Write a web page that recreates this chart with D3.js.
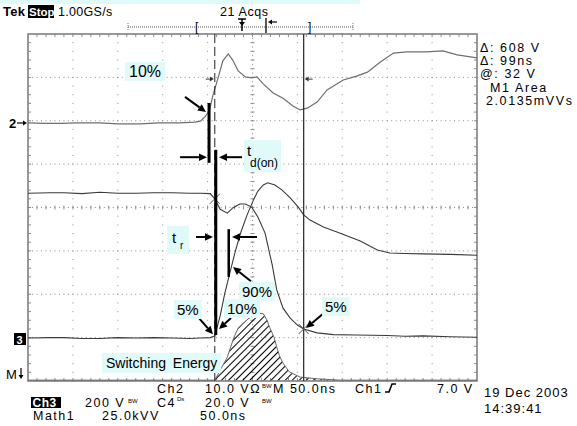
<!DOCTYPE html>
<html><head><meta charset="utf-8">
<script src="https://cdn.jsdelivr.net/npm/d3@7"></script>
<style>
body{margin:0;background:#fff;}
svg{display:block;}
text{font-family:"Liberation Sans",Arial,sans-serif;fill:#000;}
</style></head><body>
<svg id="c" width="577" height="426"></svg>
<script>
// ---------- DATA (time in ns, values in graticule divisions) ----------
const gateT   = [0,20,36,55,80,100,125,145,169,186,192,197,202,206,212,217,223,228,234,242,249,255,262,273,284,295,303,311,322,333,351,366,378,392,407,422,444,462,478,500];
const gateDiv = [1.95,1.94,1.94,1.95,1.95,1.93,1.93,1.95,1.95,1.97,1.99,2.09,2.23,2.59,3.01,3.38,3.54,3.40,3.15,3.01,2.99,3.01,2.85,2.64,2.52,2.34,2.25,2.29,2.43,2.71,2.94,3.03,3.12,3.35,3.56,3.59,3.59,3.61,3.52,3.45];

const vceT   = [0,25,40,60,80,100,120,140,160,180,192,203,208,214,222,228,236,242,249,256,264,267,272,277,284,292,300,307,322,340,366,400,420,440,470,500];
const vceDiv = [0.33,0.34,0.34,0.32,0.35,0.33,0.33,0.34,0.34,0.33,0.33,0.32,0.20,-0.04,-0.13,-0.01,0.08,0.08,0.01,-0.22,-0.59,-0.87,-1.33,-1.90,-2.32,-2.55,-2.71,-2.80,-2.89,-2.93,-2.94,-2.95,-2.97,-2.96,-2.98,-2.99];

const icT   = [0,25,40,60,80,100,120,140,160,180,192,203,208,214,219,225,231,237,244,251,256,262,267,275,283,292,301,307,314,329,347,370,389,403,420,440,470,500];
const icDiv = [-3.01,-3.00,-3.00,-3.02,-3.02,-3.00,-3.01,-3.00,-3.01,-3.02,-3.01,-3.00,-2.96,-2.50,-1.99,-1.49,-1.00,-0.57,-0.17,0.17,0.38,0.52,0.57,0.52,0.40,0.22,0.01,-0.17,-0.29,-0.45,-0.59,-0.77,-0.98,-1.05,-1.06,-1.07,-1.08,-1.10];

const mathT   = [0,100,208,214,222,229,234,240,245,249,256,262,266,269,274,277,280,284,291,303,322,347,400,500];
const mathDiv = [-3.98,-3.98,-3.98,-3.75,-3.45,-3.01,-2.78,-2.66,-2.57,-2.52,-2.43,-2.45,-2.59,-2.76,-2.99,-3.22,-3.42,-3.59,-3.79,-3.91,-3.95,-3.98,-3.98,-3.98];
const mathBase = -3.98;

const cursorT = [208, 307];           // cursor 1 (dashed), cursor 2 (solid)
const readouts = ["\u0394: 608 V","\u0394: 99ns","@: 32 V","M1 Area","2.0135mVVs"];

// annotation bars
const barT   = [201.6, 209.1, 223.8];
const barTop = [2.41, 1.33, -0.50];
const barBot = [1.03, -2.94, -1.60];
// annotation arrows (tip at arrowTo)
const arrowFrom = [[174.8,2.55],[169.3,1.16],[238.3,1.16],[187.1,-0.68],[255.0,-0.68],[248.3,-1.70],[190.4,-2.55],[226.1,-2.55],[329.6,-2.43]];
const arrowTo   = [[198.2,2.20],[199.3,1.16],[212.7,1.16],[206.0,-0.68],[227.2,-0.68],[228.3,-1.37],[206.0,-2.92],[212.7,-2.80],[309.6,-2.78]];
// percent labels
const labelText = ["10%","90%","5%","10%","5%"];
const labelT    = [112.5,238.3,165.9,221.6,330.7];
const labelDiv  = [3.01,-2.06,-2.48,-2.455,-2.41];

// ---------- SCALES ----------
const x = d3.scaleLinear().domain([0,500]).range([28,477]);
const y = d3.scaleLinear().domain([-4,4]).range([381,34]);
const svg = d3.select('#c');
const defs = svg.append('defs');
const CY = '#e0fafa';

const pat = defs.append('pattern').attr('id','hatch').attr('patternUnits','userSpaceOnUse')
  .attr('width',5).attr('height',5).attr('patternTransform','rotate(45)');
pat.append('line').attr('x1',0.5).attr('y1',0).attr('x2',0.5).attr('y2',5).attr('stroke','#000').attr('stroke-width',1.1);
defs.append('clipPath').attr('id','clip').append('rect')
  .attr('x',x(0)).attr('y',y(4)).attr('width',x(500)-x(0)).attr('height',y(-4)-y(4));

svg.append('rect').attr('x',0).attr('y',0).attr('width',360).attr('height',4).attr('fill',CY);

// ---------- GRATICULE ----------
const g = svg.append('g');
const dots = [];
d3.range(50,500,50).filter(t=>t!==250).forEach(t=>d3.range(-4,4.001,0.2).forEach(d=>dots.push([t,d])));
[-3,-2,-1,1,2,3].forEach(d=>d3.range(0,500.01,5).forEach(t=>dots.push([t,d])));
d3.range(0,500.01,5).forEach(t=>dots.push([t,0]));
d3.range(-4,4.001,0.1).forEach(d=>dots.push([250,d]));
g.selectAll('.dot').data(dots).join('rect').attr('class','dot')
  .attr('x',d=>x(d[0])-0.5).attr('y',d=>y(d[1])-0.5).attr('width',1).attr('height',1).attr('fill','#8c8c8c');
g.selectAll('.ht').data(d3.range(10,500,10)).join('line')
  .attr('x1',d=>x(d)).attr('x2',d=>x(d)).attr('y1',y(0)-2).attr('y2',y(0)+2).attr('stroke','#8c8c8c');
g.selectAll('.vt').data(d3.range(-3.8,3.81,0.2)).join('line')
  .attr('x1',x(250)-2).attr('x2',x(250)+2).attr('y1',d=>y(d)).attr('y2',d=>y(d)).attr('stroke','#8c8c8c');
const bt = d3.range(10,500,10);
g.selectAll('.tt').data(bt).join('line').attr('x1',d=>x(d)).attr('x2',d=>x(d)).attr('y1',y(4)).attr('y2',y(4)+3).attr('stroke','#8c8c8c');
g.selectAll('.bt').data(bt).join('line').attr('x1',d=>x(d)).attr('x2',d=>x(d)).attr('y1',y(-4)).attr('y2',y(-4)-3).attr('stroke','#8c8c8c');
const lt = d3.range(-3.8,3.81,0.2);
g.selectAll('.lt').data(lt).join('line').attr('x1',x(0)).attr('x2',x(0)+3).attr('y1',d=>y(d)).attr('y2',d=>y(d)).attr('stroke','#8c8c8c');
g.selectAll('.rt').data(lt).join('line').attr('x1',x(500)).attr('x2',x(500)-3).attr('y1',d=>y(d)).attr('y2',d=>y(d)).attr('stroke','#8c8c8c');
g.append('rect').attr('x',x(0)).attr('y',y(4)).attr('width',x(500)-x(0)).attr('height',y(-4)-y(4))
  .attr('fill','none').attr('stroke','#808080').attr('stroke-width',1.6);

// ---------- TRACES ----------
const tr = svg.append('g').attr('clip-path','url(#clip)');
const zip = (a,b)=>a.map((v,i)=>[v,b[i]]);
const line = d3.line().x(d=>x(d[0])).y(d=>y(d[1]));
const area = d3.area().x(d=>x(d[0])).y0(y(mathBase)).y1(d=>y(d[1]));
tr.append('path').attr('d',area(zip(mathT,mathDiv))).attr('fill','url(#hatch)');
tr.append('path').attr('d',line(zip(mathT,mathDiv))).attr('fill','none').attr('stroke','#666').attr('stroke-width',1);
tr.append('path').attr('d',line(zip(gateT,gateDiv))).attr('fill','none').attr('stroke','#6e6e6e').attr('stroke-width',1.2);
tr.append('path').attr('d',line(zip(vceT,vceDiv))).attr('fill','none').attr('stroke','#3a3a3a').attr('stroke-width',1.1);
tr.append('path').attr('d',line(zip(icT,icDiv))).attr('fill','none').attr('stroke','#3a3a3a').attr('stroke-width',1.1);

svg.append('line').attr('x1',x(cursorT[0])).attr('x2',x(cursorT[0])).attr('y1',y(4)).attr('y2',y(-4))
  .attr('stroke','#222').attr('stroke-width',1).attr('stroke-dasharray','9,4');
svg.append('line').attr('x1',x(cursorT[1])).attr('x2',x(cursorT[1])).attr('y1',y(4)).attr('y2',y(-4))
  .attr('stroke','#222').attr('stroke-width',1.2);
const vAt = t => d3.scaleLinear().domain(vceT).range(vceDiv)(t);
cursorT.forEach(t=>{
  const cx=x(t), cy=y(vAt(t));
  svg.append('path').attr('d',`M${cx-5},${cy-5}L${cx+5},${cy+5}M${cx-5},${cy+5}L${cx+5},${cy-5}`).attr('stroke','#555').attr('stroke-width',1);
});
function arrowHead(x1,y1,x2,y2,len,half,col,w){
  const a=Math.atan2(y2-y1,x2-x1);
  const bx=x2-len*Math.cos(a), by=y2-len*Math.sin(a);
  svg.append('line').attr('x1',x1).attr('y1',y1).attr('x2',bx).attr('y2',by).attr('stroke',col).attr('stroke-width',w);
  const px=-Math.sin(a)*half, py=Math.cos(a)*half;
  svg.append('path').attr('d',`M${x2},${y2}L${bx+px},${by+py}L${bx-px},${by-py}Z`).attr('fill',col);
}
arrowHead(x(cursorT[0])-9,y(2.96),x(cursorT[0])-1,y(2.96),4,2.5,'#333',1);
arrowHead(x(cursorT[1])+9,y(2.96),x(cursorT[1])+1,y(2.96),4,2.5,'#333',1);

// ---------- ANNOTATIONS ----------
barT.forEach((t,i)=>{
  svg.append('rect').attr('x',x(t)-1.5).attr('y',y(barTop[i])).attr('width',i===2?2.5:3)
    .attr('height',y(barBot[i])-y(barTop[i])).attr('fill','#000');
});
arrowFrom.forEach((f,i)=>arrowHead(x(f[0]),y(f[1]),x(arrowTo[i][0]),y(arrowTo[i][1]),8,3.8,'#000',2));

function boxed(gsel,padX,padY){
  const b=gsel.node().getBBox();
  gsel.insert('rect',':first-child').attr('x',b.x-padX).attr('y',b.y-padY)
    .attr('width',b.width+2*padX).attr('height',b.height+2*padY).attr('fill',CY);
}
labelText.forEach((s,i)=>{
  const gg=svg.append('g');
  gg.append('text').attr('x',x(labelT[i])).attr('y',y(labelDiv[i])).attr('font-size',i===0?16:15).text(s);
  boxed(gg,i===0?4:3,1);
});
{ const gg=svg.append('g');
  gg.append('text').attr('x',x(243.9)).attr('y',y(1.187)).attr('font-size',15).text('t');
  gg.append('text').attr('x',x(247.2)).attr('y',y(0.934)).attr('font-size',12).text('d(on)');
  boxed(gg,3,2); }
{ const gg=svg.append('g');
  gg.append('text').attr('x',x(160.4)).attr('y',y(-0.818)).attr('font-size',15).text('t');
  gg.append('text').attr('x',x(169.3)).attr('y',y(-0.957)).attr('font-size',10).text('r');
  boxed(gg,5,3); }
{ const gg=svg.append('g');
  gg.append('text').attr('x',x(86.9)).attr('y',y(-3.70)).attr('font-size',14).attr('word-spacing',3).text('Switching Energy');
  boxed(gg,4,2); }

// ---------- SCOPE TEXT ----------
const T = (s,px,py,opt={})=>{
  const t=svg.append('text').attr('x',px).attr('y',py).attr('font-size',opt.size||13)
    .attr('letter-spacing',opt.ls!==undefined?opt.ls:0.8).text(s);
  if(opt.bold) t.attr('font-weight','bold');
  if(opt.fill) t.style('fill',opt.fill);
  return t;
};
T('Tek',3,16,{bold:true,size:13,ls:0.3});
svg.append('rect').attr('x',28).attr('y',5).attr('width',26).attr('height',13).attr('fill','#000');
T('Stop:',29,16,{bold:true,size:11.5,ls:0,fill:'#fff'});
T('1.00GS/s',58,16,{size:12.5,ls:0.3});
T('21 Acqs',220,16,{size:12.5,ls:0.6});
svg.append('line').attr('x1',128).attr('x2',353).attr('y1',27).attr('y2',27).attr('stroke','#555').attr('stroke-dasharray','1,1');
[128,353].forEach(v=>svg.append('line').attr('x1',v).attr('x2',v).attr('y1',23).attr('y2',31).attr('stroke','#777').attr('stroke-dasharray','1,1'));
T('[',195,31,{size:12,ls:0});
T(']',308,31,{size:12,ls:0});
svg.append('path').attr('d','M238,19L246,19M242,19L242,31').attr('stroke','#000').attr('stroke-width',1.5);
svg.append('path').attr('d','M239,22L242,26L245,22Z').attr('fill','#000');
svg.append('line').attr('x1',266).attr('x2',266).attr('y1',18).attr('y2',33).attr('stroke','#000').attr('stroke-width',1.3);
arrowHead(277,22,268,22,4,2.5,'#000',1.2);
T('2',9,128,{size:13,bold:true,ls:0});
arrowHead(17,123,27,123,4,2.5,'#000',1.2);
svg.append('rect').attr('x',14).attr('y',333).attr('width',12).attr('height',12).attr('fill','#000');
T('3',16.5,343.5,{size:11,bold:true,ls:0,fill:'#fff'});
T('M',6,379,{size:13,ls:0});
arrowHead(21,368,21,379,4,2.5,'#000',1.2);
readouts.forEach((s,i)=>{
  const ys=[52,65,78,92,105][i];
  const xs=[480,480,480,490,486][i];
  T(s,xs,ys,{size:12.5,ls:1.6});
});
const BS = {size:12.5,ls:1.5};
T('Ch2',157,393,BS);
T('10.0 V\u03a9',205,393,BS);
T('BW',262,388,{size:6,ls:0});
T('M 50.0ns',273,393,BS);
T('Ch1',355,393,BS);
svg.append('path').attr('d','M385,392L389,392L392,384L396,384').attr('stroke','#000').attr('stroke-width',1.6).attr('fill','none');
T('7.0 V',437,393,BS);
svg.append('rect').attr('x',31).attr('y',397).attr('width',30).attr('height',11).attr('fill','#000');
T('Ch3',32.5,406.5,{size:12,bold:true,ls:0.5,fill:'#fff'});
T('200 V',85,406.5,BS);
T('BW',128,403,{size:6,ls:0});
T('C4',157,406.5,BS);
T('Ds',177,401,{size:6,ls:0});
T('20.0 V',205,406.5,BS);
T('BW',262,403,{size:6,ls:0});
T('Math1',33,420,BS);
T('25.0kVV',102,420,BS);
T('50.0ns',200,420,BS);
T('19 Dec 2003',484,397,{size:13,ls:1});
T('14:39:41',484,413,{size:13,ls:1});
</script>
</body></html>
